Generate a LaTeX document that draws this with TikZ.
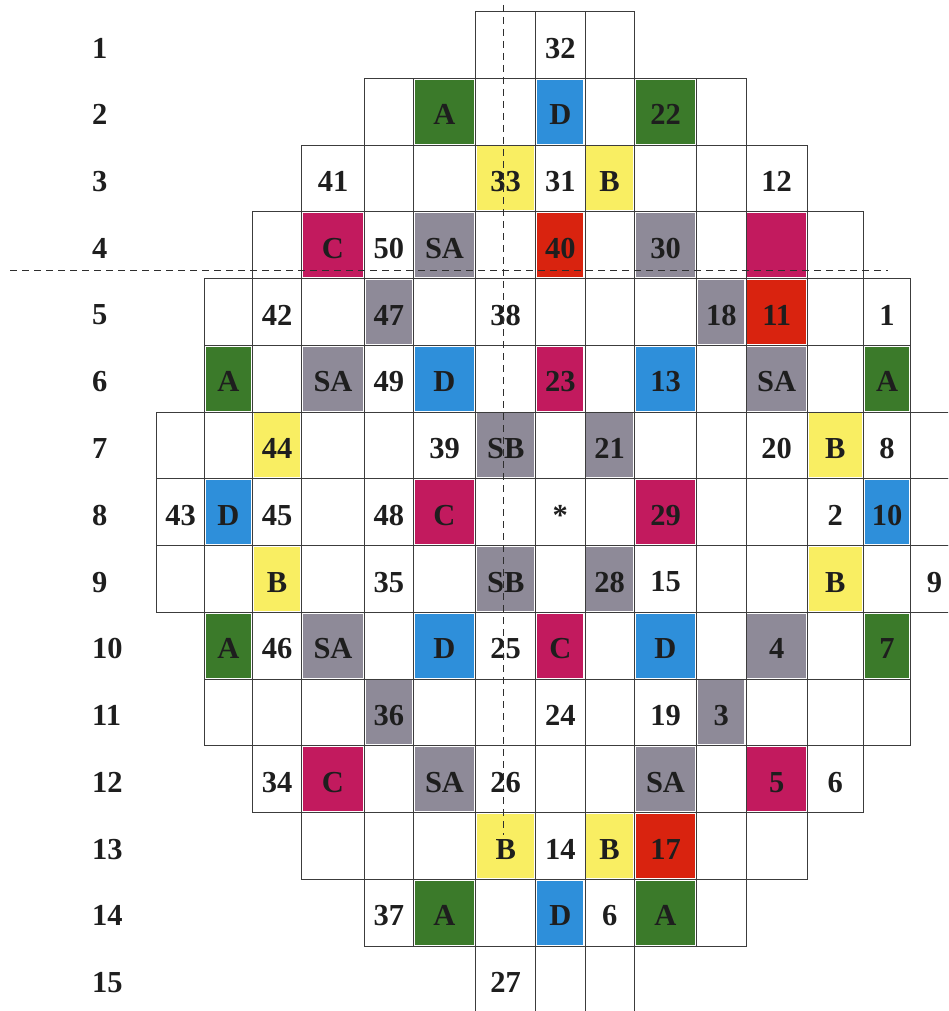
\documentclass[tikz,border=0pt]{standalone}
\usepackage{fontspec}
\setmainfont{Liberation Serif}
\definecolor{cgreen}{HTML}{3B7A2A}
\definecolor{cblue}{HTML}{2E8FDA}
\definecolor{cmag}{HTML}{C21A5E}
\definecolor{cred}{HTML}{D9230F}
\definecolor{cyellow}{HTML}{F9EE62}
\definecolor{cgrey}{HTML}{8E8A98}
\definecolor{cline}{HTML}{3C3C3C}
\definecolor{cdash}{HTML}{2E2E2E}
\definecolor{ctext}{HTML}{1E1E1E}
\def\bx{{156.7,204.3,252.3,301.7,364.3,413.3,475.7,535.7,585,634.3,696.7,746,807.3,863.3,910.7,958.3}}
\tikzset{
  cellbox/.style={draw=cline, line width=1pt, rectangle, inner sep=0pt, outer sep=0pt},
  celltext/.style={inner sep=0pt, text=ctext, font=\fontsize{30.5}{36}\selectfont\bfseries},
  rowlab/.style={inner sep=0pt, anchor=west, text=ctext, font=\fontsize{30.5}{36}\selectfont\bfseries},
  dashline/.style={draw=cdash, line width=1.5pt, dash pattern=on 7pt off 5pt}
}
\newcommand\rowcells[2]{%
  \foreach \ci/\cfill/\txt in {#2} {
    \pgfmathsetmacro\xl{\bx[\ci]}
    \pgfmathsetmacro\xr{\bx[\ci+1]}
    \pgfmathsetmacro\yt{11.7+(#1-1)*66.75}
    \pgfmathsetmacro\yb{\yt+66.75}
    \pgfmathsetmacro\cellw{\xr-\xl}
    \fill[\cfill] (\xl+1.2,\yt+1.2) rectangle (\xr-1.6,\yb-1.6);
    \node[cellbox, minimum width=\cellw pt, minimum height=66.75pt] (r#1c\ci) at ({(\xl+\xr)/2},{(\yt+\yb)/2}) {};
    \node[celltext, yshift=-3pt] (t#1c\ci) at (r#1c\ci.center) {\txt};
  }%
}
\begin{document}
\begin{tikzpicture}[x=1pt, y=-1pt]
\useasboundingbox (0,0) rectangle (948,1011);
\clip (0,0) rectangle (948,1011);
\fill[white] (0,0) rectangle (948,1011);
\foreach \r in {1,...,15} {
  \node[rowlab, yshift=-3pt] (lab\r) at (92,{11.7+(\r-0.5)*66.75}) {\r};
}
\rowcells{1}{6/white/{}, 7/white/32, 8/white/{}}
\rowcells{2}{4/white/{}, 5/cgreen/A, 6/white/{}, 7/cblue/D, 8/white/{}, 9/cgreen/22, 10/white/{}}
\rowcells{3}{3/white/41, 4/white/{}, 5/white/{}, 6/cyellow/33, 7/white/31, 8/cyellow/B, 9/white/{}, 10/white/{}, 11/white/12}
\rowcells{4}{2/white/{}, 3/cmag/C, 4/white/50, 5/cgrey/SA, 6/white/{}, 7/cred/40, 8/white/{}, 9/cgrey/30, 10/white/{}, 11/cmag/{}, 12/white/{}}
\rowcells{5}{1/white/{}, 2/white/42, 3/white/{}, 4/cgrey/47, 5/white/{}, 6/white/38, 7/white/{}, 8/white/{}, 9/white/{}, 10/cgrey/18, 11/cred/11, 12/white/{}, 13/white/1}
\rowcells{6}{1/cgreen/A, 2/white/{}, 3/cgrey/SA, 4/white/49, 5/cblue/D, 6/white/{}, 7/cmag/23, 8/white/{}, 9/cblue/13, 10/white/{}, 11/cgrey/SA, 12/white/{}, 13/cgreen/A}
\rowcells{7}{0/white/{}, 1/white/{}, 2/cyellow/44, 3/white/{}, 4/white/{}, 5/white/39, 6/cgrey/SB, 7/white/{}, 8/cgrey/21, 9/white/{}, 10/white/{}, 11/white/20, 12/cyellow/B, 13/white/8, 14/white/{}}
\rowcells{8}{0/white/43, 1/cblue/D, 2/white/45, 3/white/{}, 4/white/48, 5/cmag/C, 6/white/{}, 7/white/*, 8/white/{}, 9/cmag/29, 10/white/{}, 11/white/{}, 12/white/2, 13/cblue/10, 14/white/{}}
\rowcells{9}{0/white/{}, 1/white/{}, 2/cyellow/B, 3/white/{}, 4/white/35, 5/white/{}, 6/cgrey/SB, 7/white/{}, 8/cgrey/28, 9/white/15, 10/white/{}, 11/white/{}, 12/cyellow/B, 13/white/{}, 14/white/9}
\rowcells{10}{1/cgreen/A, 2/white/46, 3/cgrey/SA, 4/white/{}, 5/cblue/D, 6/white/25, 7/cmag/C, 8/white/{}, 9/cblue/D, 10/white/{}, 11/cgrey/4, 12/white/{}, 13/cgreen/7}
\rowcells{11}{1/white/{}, 2/white/{}, 3/white/{}, 4/cgrey/36, 5/white/{}, 6/white/{}, 7/white/24, 8/white/{}, 9/white/19, 10/cgrey/3, 11/white/{}, 12/white/{}, 13/white/{}}
\rowcells{12}{2/white/34, 3/cmag/C, 4/white/{}, 5/cgrey/SA, 6/white/26, 7/white/{}, 8/white/{}, 9/cgrey/SA, 10/white/{}, 11/cmag/5, 12/white/6}
\rowcells{13}{3/white/{}, 4/white/{}, 5/white/{}, 6/cyellow/B, 7/white/14, 8/cyellow/B, 9/cred/17, 10/white/{}, 11/white/{}}
\rowcells{14}{4/white/37, 5/cgreen/A, 6/white/{}, 7/cblue/D, 8/white/6, 9/cgreen/A, 10/white/{}}
\rowcells{15}{6/white/27, 7/white/{}, 8/white/{}}
\coordinate (vtop) at (503.5,5);
\coordinate (vbot) at (503.5,835);
\coordinate (hl) at (10,270.7);
\coordinate (hr) at (888,270.7);
\draw[dashline] (vtop) -- (vbot);
\draw[dashline] (hl) -- (hr);
\end{tikzpicture}
\end{document}
